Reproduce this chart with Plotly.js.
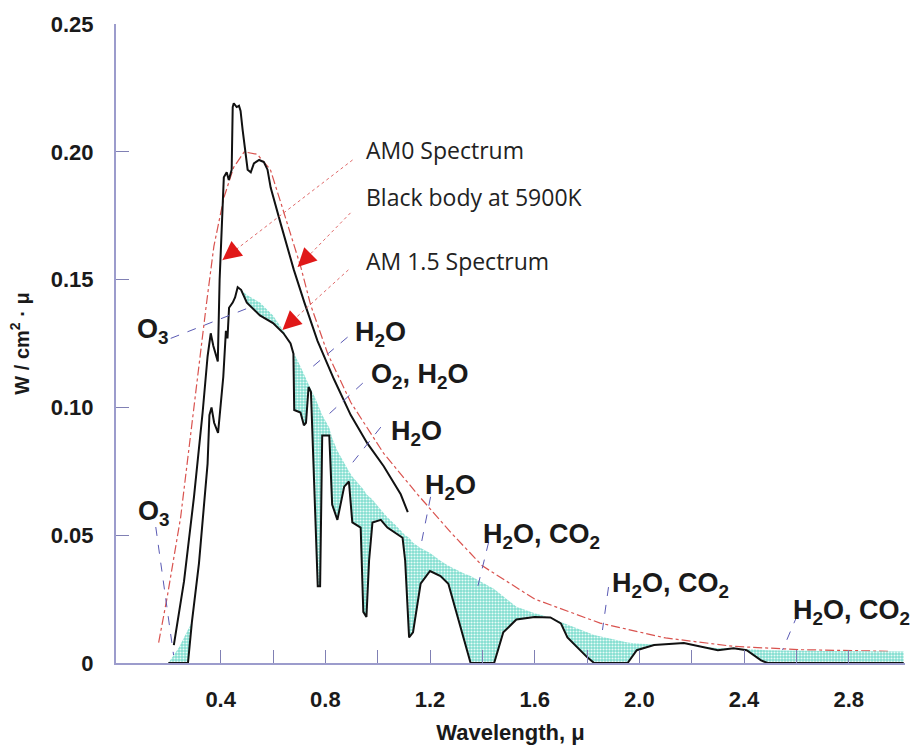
<!DOCTYPE html>
<html>
<head>
<meta charset="utf-8">
<script src="https://cdn.plot.ly/plotly-3.0.1.min.js"></script>
<style>html,body{margin:0;padding:0;background:#fff;}#chart{width:920px;height:756px;}</style>
</head>
<body>
<div id="chart"></div>
<script>
// ---- Data ----
// Black body at 5900K
const bbWl  = [0.163,0.196,0.247,0.286,0.317,0.345,0.374,0.412,0.45,0.49,0.54,0.59,0.63,0.667,0.706,0.744,0.809,0.897,1.023,1.152,1.28,1.40,1.60,1.85,2.10,2.36,2.62,2.95];
const bbVal = [0.008,0.026,0.057,0.091,0.117,0.140,0.163,0.182,0.194,0.200,0.199,0.193,0.180,0.168,0.155,0.140,0.121,0.102,0.082,0.066,0.051,0.038,0.025,0.0156,0.0098,0.0065,0.0052,0.0046];

// AM0 spectrum
const am0Wl  = [0.221,0.26,0.298,0.331,0.35,0.362,0.372,0.389,0.396,0.408,0.412,0.423,0.431,0.442,0.446,0.45,0.461,0.47,0.476,0.484,0.496,0.503,0.515,0.527,0.547,0.565,0.579,0.591,0.629,0.679,0.72,0.77,0.833,0.897,0.96,1.023,1.088,1.115];
const am0Val = [0.007,0.032,0.065,0.098,0.120,0.129,0.124,0.118,0.150,0.185,0.190,0.192,0.189,0.193,0.2175,0.219,0.2175,0.218,0.216,0.2085,0.198,0.193,0.192,0.1955,0.1968,0.196,0.193,0.186,0.172,0.154,0.141,0.126,0.111,0.097,0.086,0.077,0.066,0.059];

// AM 1.5 spectrum and its no-absorption envelope (shared wavelengths)
const am15Wl  = [0.20,0.24,0.275,0.29,0.317,0.35,0.357,0.365,0.375,0.39,0.40,0.41,0.42,0.426,0.432,0.446,0.455,0.465,0.478,0.50,0.55,0.60,0.64,0.667,0.678,0.681,0.705,0.718,0.726,0.736,0.745,0.76,0.771,0.78,0.788,0.815,0.826,0.846,0.872,0.89,0.903,0.935,0.945,0.957,0.967,0.98,1.012,1.037,1.068,1.095,1.105,1.12,1.135,1.164,1.20,1.24,1.27,1.33,1.355,1.445,1.48,1.53,1.60,1.66,1.70,1.725,1.80,1.827,1.955,1.99,2.056,2.17,2.235,2.30,2.36,2.41,2.465,2.49,2.70,3.01];
const am15Val = [0,0,0,0.016,0.039,0.078,0.097,0.100,0.094,0.090,0.100,0.112,0.130,0.127,0.139,0.141,0.143,0.147,0.146,0.141,0.136,0.133,0.129,0.125,0.121,0.099,0.098,0.093,0.094,0.108,0.106,0.060,0.030,0.030,0.089,0.089,0.062,0.056,0.069,0.071,0.055,0.053,0.020,0.018,0.040,0.055,0.056,0.053,0.051,0.049,0.040,0.010,0.012,0.031,0.036,0.034,0.031,0.009,0,0,0.012,0.017,0.018,0.0178,0.0155,0.010,0.0023,0,0,0.005,0.007,0.0078,0.0063,0.005,0.0058,0.005,0.001,0,0,0];
const envVal  = [0,0.006,0.013,0.016,0.039,0.078,0.097,0.100,0.094,0.090,0.100,0.112,0.130,0.127,0.139,0.141,0.143,0.147,0.146,0.144,0.141,0.136,0.130,0.125,0.122,0.121,0.116,0.113,0.111,0.109,0.107,0.104,0.101,0.099,0.097,0.092,0.088,0.083,0.078,0.075,0.073,0.069,0.068,0.066,0.065,0.064,0.060,0.057,0.054,0.051,0.050,0.049,0.047,0.045,0.043,0.040,0.038,0.035,0.034,0.029,0.026,0.022,0.0195,0.0178,0.016,0.015,0.012,0.011,0.008,0.0076,0.0072,0.0078,0.0066,0.0058,0.0058,0.0054,0.0052,0.005,0.0047,0.0045];

// Tick labels
const xTickVals = [0.4,0.6,0.8,1.0,1.2,1.4,1.6,1.8,2.0,2.2,2.4,2.6,2.8];
const xTickText = ['0.4','','0.8','','1.2','','1.6','','2.0','','2.4','','2.8'];
const yTickVals = [0,0.05,0.10,0.15,0.20,0.25];
const yTickText = ['0','0.05','0.10','0.15','0.20','0.25'];

// Curve labels
const curveLabels = ['AM0 Spectrum','Black body at 5900K','AM 1.5 Spectrum'];
// Absorber labels
const gasLabels = ['O<sub>3</sub>','O<sub>3</sub>','H<sub>2</sub>O','O<sub>2</sub>, H<sub>2</sub>O','H<sub>2</sub>O','H<sub>2</sub>O','H<sub>2</sub>O, CO<sub>2</sub>','H<sub>2</sub>O, CO<sub>2</sub>','H<sub>2</sub>O, CO<sub>2</sub>'];

// ---- Placement (layout, not data) ----
const curveLabelPos = [[0.9465,0.2007],[0.9465,0.1823],[0.9465,0.1573]];
const curveArrow = [ // tail x,y -> tip x,y ; head pixel offsets
  {t:[0.904,0.1968], h:[0.407,0.1577], ax:14, ay:-11},
  {t:[0.896,0.1761], h:[0.694,0.1549], ax:13, ay:-13},
  {t:[0.888,0.1538], h:[0.636,0.1303], ax:13, ay:-12}
];
const gasPos = [[0.140,0.1300],[0.144,0.0585],[1.011,0.1287],[1.160,0.1123],[1.149,0.0900],[1.279,0.0689],[1.627,0.0497],[2.120,0.0305],[2.812,0.0200]];
const gasLeader = [
  [0.209,0.127,0.508,0.139],
  [0.152,0.0532,0.220,0.0031],
  [0.885,0.1275,0.736,0.1146],
  [0.943,0.1095,0.801,0.0962],
  [1.012,0.0923,0.897,0.0775],
  [1.202,0.065,1.164,0.0454],
  [1.424,0.0473,1.382,0.0297],
  [1.882,0.0297,1.859,0.0129],
  [2.604,0.0188,2.547,0.0051]
];

const boldFont = 'Liberation Sans, Arial, sans-serif';
const ink = '#1a1a1a';
const axisCol = '#9c9ccc';

const traces = [
  {x: bbWl, y: bbVal, mode:'lines', line:{color:'#d9534f', width:1.2, dash:'dashdot'}, hoverinfo:'skip'},
  {x: am15Wl, y: am15Val, mode:'lines', line:{color:'rgba(0,0,0,0)', width:0}, hoverinfo:'skip'},
  {x: am15Wl, y: envVal, mode:'lines', line:{color:'rgba(0,0,0,0)', width:0}, fill:'tonexty',
   fillcolor:'#86dfd2', fillpattern:{shape:'.', bgcolor:'#80ddcf', fgcolor:'#eafcf8', size:3, solidity:0.4}, hoverinfo:'skip'},
  {x: am15Wl, y: am15Val, mode:'lines', line:{color:'#111', width:2}, hoverinfo:'skip'},
  {x: am0Wl, y: am0Val, mode:'lines', line:{color:'#111', width:2}, hoverinfo:'skip'}
];

const annotations = [];
const shapes = [];
curveLabels.forEach((t,i)=>{
  annotations.push({x:curveLabelPos[i][0], y:curveLabelPos[i][1], xref:'x', yref:'y', text:t, showarrow:false,
    xanchor:'left', yanchor:'middle', font:{family:'Open Sans, Noto Sans, sans-serif', size:23, color:'#222'}});
  const a = curveArrow[i];
  shapes.push({type:'line', xref:'x', yref:'y', x0:a.t[0], y0:a.t[1], x1:a.h[0], y1:a.h[1], line:{color:'#e06a6a', width:1, dash:'dot'}});
  annotations.push({x:a.h[0], y:a.h[1], xref:'x', yref:'y', text:'', showarrow:true, ax:a.ax, ay:a.ay,
    arrowhead:2, arrowsize:1.5, arrowwidth:2.5, arrowcolor:'#e01818', standoff:0, startstandoff:0});
});
gasLabels.forEach((t,i)=>{
  annotations.push({x:gasPos[i][0], y:gasPos[i][1], xref:'x', yref:'y', text:t, showarrow:false,
    xanchor:'center', yanchor:'middle', font:{family:boldFont, size:27, color:ink, weight:'bold'}});
  const l = gasLeader[i];
  shapes.push({type:'line', xref:'x', yref:'y', x0:l[0], y0:l[1], x1:l[2], y1:l[3], line:{color:'#5a5ab4', width:1, dash:'dash'}});
});

const layout = {
  width:920, height:756,
  margin:{l:116, r:15, t:24, b:93},
  paper_bgcolor:'#fff', plot_bgcolor:'#fff',
  showlegend:false,
  xaxis:{range:[0,3.015], showgrid:false, zeroline:false, showline:true, linecolor:axisCol, linewidth:2,
    ticks:'inside', ticklen:13, tickwidth:1, tickcolor:'#8080b4',
    tickmode:'array', tickvals:xTickVals, ticktext:xTickText, ticklabelstandoff:16,
    tickfont:{family:boldFont, size:22, color:ink, weight:'bold'},
    title:{text:'Wavelength, μ', font:{family:boldFont, size:22, color:ink, weight:'bold'}, standoff:13}},
  yaxis:{range:[0,0.25], showgrid:false, zeroline:false, showline:true, linecolor:axisCol, linewidth:2,
    ticks:'inside', ticklen:13, tickwidth:1, tickcolor:'#8080b4',
    tickmode:'array', tickvals:yTickVals, ticktext:yTickText, ticklabelstandoff:16,
    tickfont:{family:boldFont, size:22, color:ink, weight:'bold'},
    title:{text:'W / cm<sup>2</sup> · μ', font:{family:boldFont, size:20, color:ink, weight:'bold'}, standoff:16}},
  annotations: annotations,
  shapes: shapes
};

Plotly.newPlot('chart', traces, layout, {staticPlot:true, displayModeBar:false});
</script>
</body>
</html>
